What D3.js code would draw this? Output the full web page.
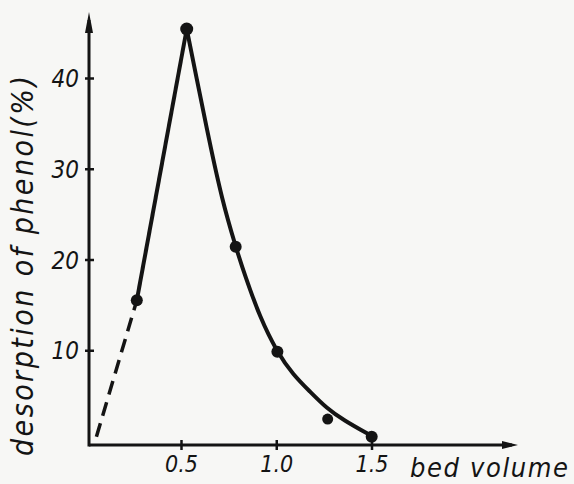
<!DOCTYPE html>
<html>
<head>
<meta charset="utf-8">
<script src="https://cdn.jsdelivr.net/npm/d3@7"></script>
<style>
  body { margin: 0; background: #f7f7f5; }
  svg { display: block; }
  text { font-family: "DejaVu Sans", "Liberation Sans Narrow", sans-serif; font-stretch: condensed; font-style: oblique; fill: #141414; }
</style>
</head>
<body>
<div id="chart"></div>
<script>
// measured points (bed volume, desorption %)
var pointX = [0.268, 0.53, 0.787, 1.006, 1.27, 1.501];
var pointY = [15.5, 45.4, 21.4, 9.84, 2.42, 0.47];
var pointR = [6, 6.5, 6, 6, 5.5, 6];

// dashed extrapolation toward origin
var dashX = [0.056, 0.268];
var dashY = [0.47, 15.5];

// rising branch
var riseX = [0.268, 0.53];
var riseY = [15.5, 45.4];

// falling branch
var fallX = [0.53, 0.579, 0.647, 0.715, 0.787, 0.836, 0.915, 1.003, 1.09, 1.178, 1.265, 1.352, 1.501];
var fallY = [45.4, 40.3, 33.2, 26.6, 21.4, 18.2, 13.6, 9.84, 7.27, 5.43, 3.6, 2.31, 0.55];

var xTicks = [0.5, 1.0, 1.5];
var yTicks = [10, 20, 30, 40];

var W = 574, H = 484;
var axisY = 445, axisX = 89;   // where the drawn axis lines sit
var xEnd = 518, yTop = 12;

var svg = d3.select("#chart").append("svg")
	.attr("width", W)
	.attr("height", H);

var x = d3.scaleLinear().domain([0.5, 1.5]).range([181, 371.5]);
var y = d3.scaleLinear().domain([0, 40]).range([441, 78]);

var ink = "#141414";

// axes lines with arrows
svg.append("line")
	.attr("x1", axisX).attr("y1", axisY)
	.attr("x2", xEnd - 6).attr("y2", axisY)
	.style("stroke", ink).style("stroke-width", 3);
svg.append("path")
	.attr("d", "M" + (xEnd - 16) + "," + (axisY - 4) + " L" + xEnd + "," + axisY + " L" + (xEnd - 16) + "," + (axisY + 4) + "Z")
	.style("fill", ink);

svg.append("line")
	.attr("x1", axisX).attr("y1", axisY + 1.5)
	.attr("x2", axisX).attr("y2", yTop + 8)
	.style("stroke", ink).style("stroke-width", 3);
svg.append("path")
	.attr("d", "M" + (axisX - 4) + "," + (yTop + 21) + " L" + axisX + "," + yTop + " L" + (axisX + 4) + "," + (yTop + 21) + "Z")
	.style("fill", ink);

// y ticks
var yAxis = svg.append("g")
	.attr("transform", "translate(" + axisX + ",0)")
	.call(d3.axisLeft(y).tickValues(yTicks).tickSize(4).tickFormat(d3.format("d")));
yAxis.select(".domain").remove();
yAxis.selectAll(".tick line")
	.attr("x1", 5).attr("x2", -4)
	.style("stroke", ink).style("stroke-width", 2.5);
yAxis.selectAll(".tick text")
	.attr("x", -10)
	.attr("dy", "0.36em")
	.style("font-size", "24px")
	.style("font-family", null);

// x ticks
var xAxis = svg.append("g")
	.attr("transform", "translate(0," + axisY + ")")
	.call(d3.axisBottom(x).tickValues(xTicks).tickSize(4).tickFormat(d3.format(".1f")));
xAxis.select(".domain").remove();
xAxis.selectAll(".tick line")
	.attr("y1", -5).attr("y2", 5)
	.style("stroke", ink).style("stroke-width", 2.5);
xAxis.selectAll(".tick text")
	.attr("y", 11)
	.attr("dy", "0.71em")
	.style("font-size", "23px")
	.style("font-family", null);

// axis titles
svg.append("text")
	.attr("x", 410)
	.attr("y", 477)
	.attr("textLength", 158)
	.attr("lengthAdjust", "spacing")
	.style("font-size", "27px")
	.text("bed volume");

svg.append("text")
	.attr("transform", "translate(33,456) rotate(-90)")
	.attr("x", 0)
	.attr("y", 0)
	.attr("textLength", 380)
	.attr("lengthAdjust", "spacing")
	.style("font-size", "30px")
	.text("desorption of phenol(%)");

// curves
var line = d3.line().x(function(d){ return x(d[0]); }).y(function(d){ return y(d[1]); });

svg.append("path")
	.datum(d3.zip(dashX, dashY))
	.attr("d", line)
	.style("fill", "none")
	.style("stroke", ink)
	.style("stroke-width", 3.5)
	.style("stroke-dasharray", "14,8");

svg.append("path")
	.datum(d3.zip(riseX, riseY))
	.attr("d", line)
	.style("fill", "none")
	.style("stroke", ink)
	.style("stroke-width", 4);

svg.append("path")
	.datum(d3.zip(fallX, fallY))
	.attr("d", line.curve(d3.curveBasis))
	.style("fill", "none")
	.style("stroke", ink)
	.style("stroke-width", 4);

// points
svg.selectAll("circle.pt")
	.data(d3.zip(pointX, pointY, pointR))
	.enter().append("circle")
	.attr("class", "pt")
	.attr("cx", function(d){ return x(d[0]); })
	.attr("cy", function(d){ return y(d[1]); })
	.attr("r", function(d){ return d[2]; })
	.style("fill", ink);
</script>
</body>
</html>
